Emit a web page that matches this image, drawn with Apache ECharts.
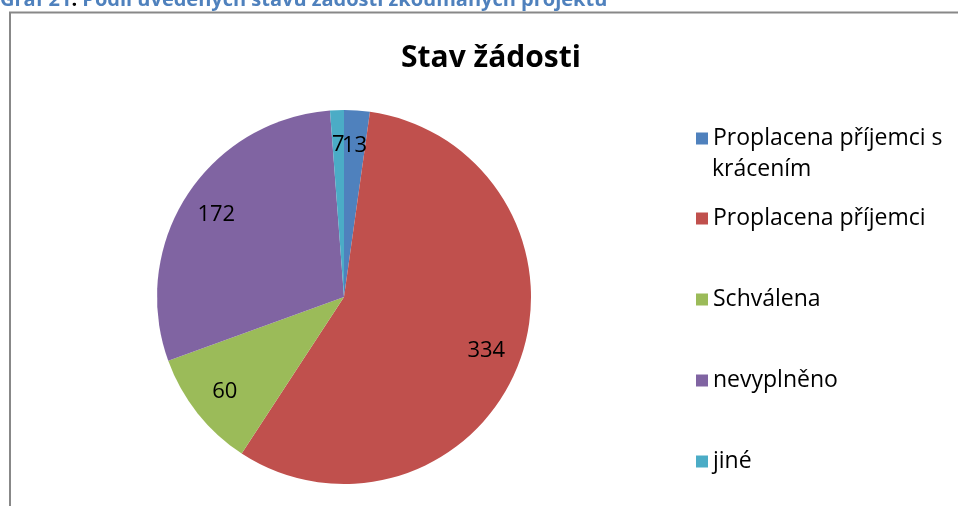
<!DOCTYPE html>
<html>
<head>
<meta charset="utf-8">
<script src="https://cdn.jsdelivr.net/npm/echarts@6/dist/echarts.min.js"></script>
<style>
  html, body { margin: 0; padding: 0; background: #fff; }
  #chart { width: 958px; height: 506px; }
</style>
</head>
<body>
<div id="chart"></div>
<script>
  // stav zadosti - data
  var categories = ['Proplacena příjemci s krácením', 'Proplacena příjemci', 'Schválena', 'nevyplněno', 'jiné']
  var values = [13, 334, 60, 172, 7]
  var colors = ['#4f81bd', '#c0504d', '#9bbb59', '#8064a2', '#4bacc6']
  var legendRows = [137, 217, 298, 379, 460]

  var font = '"Open Sans", Lato, sans-serif'
  var chart = echarts.init(document.getElementById('chart'))

  var pieData = categories.map(function (c, i) {
    return { name: c, value: values[i], itemStyle: { color: colors[i] } }
  })

  // one legend per item so the spacing follows the original
  var legends = categories.map(function (c, i) {
    return {
      orient: 'vertical',
      left: 691,
      top: legendRows[i] - 15,
      data: [c],
      icon: 'rect',
      itemWidth: 12,
      itemHeight: 12,
      itemGap: 0,
      selectedMode: false,
      formatter: function (name) {
        // second line of the first item is drawn as graphic below
        return name === categories[0] ? 'Proplacena příjemci s' : name
      },
      textStyle: {
        fontFamily: font,
        fontSize: 23,
        color: '#000',
        lineHeight: 12
      }
    }
  })

  chart.setOption({
    animation: false,
    title: {
      text: 'Stav žádosti',
      left: 396,
      top: 38,
      textStyle: { fontFamily: font, fontSize: 30, fontWeight: 'bold', color: '#000' }
    },
    legend: legends,
    graphic: [
      {
        type: 'rect',
        shape: { x: 10, y: 12.5, width: 1000, height: 600 },
        style: { fill: 'none', stroke: '#888', lineWidth: 2 },
        silent: true
      },
      {
        type: 'text',
        x: 0,
        y: 10,
        style: {
          text: '{b|Graf 21}{k|:}{b| Podíl uvedených stavů žádostí zkoumaných projektů}',
          verticalAlign: 'bottom',
          rich: {
            b: { fontFamily: font, fontSize: 20, fontWeight: 'bold', fill: '#4f81bd' },
            k: { fontFamily: font, fontSize: 20, fontWeight: 'bold', fill: '#000' }
          }
        },
        silent: true
      },
      {
        type: 'text',
        x: 712,
        y: legendRows[0] + 32,
        style: {
          text: 'krácením',
          verticalAlign: 'middle',
          fontFamily: font,
          fontSize: 23,
          fill: '#000'
        },
        silent: true
      }
    ],
    series: [
      {
        type: 'pie',
        center: [344, 297],
        radius: 187,
        startAngle: 90,
        clockwise: true,
        data: pieData,
        label: { show: false },
        labelLine: { show: false },
        itemStyle: { borderWidth: 0 },
        emphasis: { disabled: true }
      },
      {
        // transparent ring only to put the value labels near the rim
        type: 'pie',
        center: [344, 297],
        radius: [111, 187],
        startAngle: 90,
        clockwise: true,
        silent: true,
        data: categories.map(function (c, i) {
          return { name: c, value: values[i] }
        }),
        itemStyle: { color: 'transparent', borderWidth: 0 },
        label: {
          show: true,
          position: 'inside',
          formatter: '{c}',
          fontFamily: font,
          fontSize: 22,
          color: '#000'
        },
        labelLayout: { hideOverlap: false },
        labelLine: { show: false },
        emphasis: { disabled: true }
      }
    ]
  })
</script>
</body>
</html>
